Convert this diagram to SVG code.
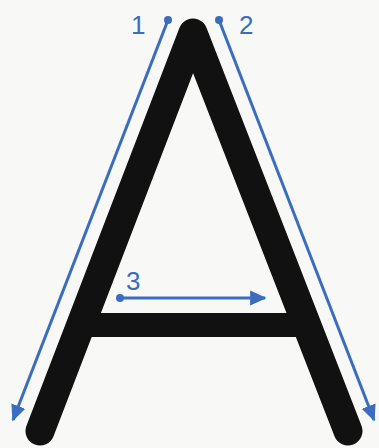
<svg xmlns="http://www.w3.org/2000/svg" width="379" height="448" viewBox="0 0 379 448">
<style>
.stroke{stroke:#111;stroke-width:29;stroke-linecap:round;stroke-linejoin:round;fill:none}
.guide{stroke:#3a6cc0;stroke-width:3;fill:none}
.dot{fill:#3a6cc0}
.lbl{font-family:"Liberation Sans",Arial,sans-serif;font-size:26px;fill:#3a6cc0}
</style>
<defs>
<marker id="ah" viewBox="0 0 10 10" refX="9" refY="5" markerWidth="5.5" markerHeight="5.5" orient="auto" markerUnits="strokeWidth">
<path d="M0,0.5 L10,5 L0,9.5 Z" fill="#3a6cc0"/>
</marker>
</defs>
<rect width="379" height="448" fill="#f8f8f6"/>
<g id="letterA">
<polyline class="stroke" points="40,431 193,33 348,431"/>
<line x1="78" y1="325" x2="306" y2="325" stroke="#111" stroke-width="24"/>
</g>
<g id="connectors">
<line class="guide" x1="168" y1="20" x2="13" y2="420" marker-end="url(#ah)"/>
<line class="guide" x1="219" y1="20" x2="374" y2="420" marker-end="url(#ah)"/>
<line class="guide" x1="120" y1="298" x2="265" y2="298" marker-end="url(#ah)"/>
<circle class="dot" cx="168" cy="20" r="4"/>
<circle class="dot" cx="219" cy="20" r="4"/>
<circle class="dot" cx="120" cy="298" r="4"/>
</g>
<g id="labels">
<text class="lbl" x="131" y="34">1</text>
<text class="lbl" x="239" y="34">2</text>
<text class="lbl" x="126" y="290">3</text>
</g>
</svg>
